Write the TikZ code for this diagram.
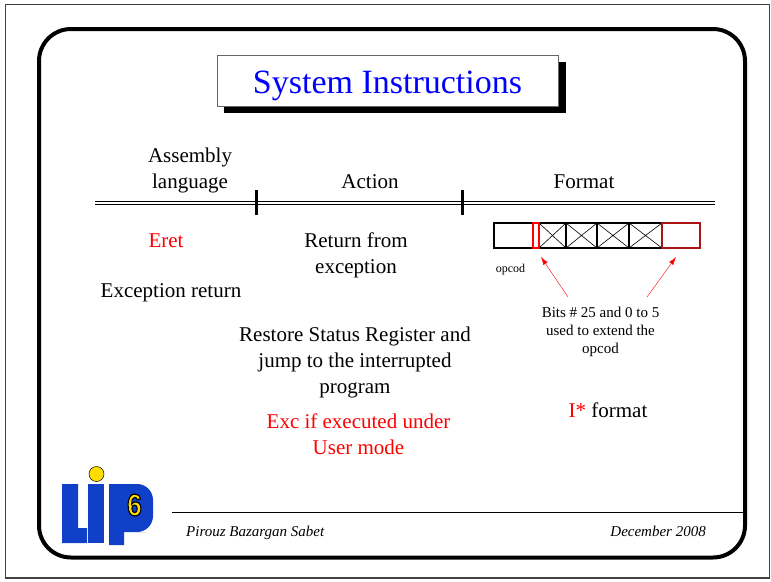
\documentclass[tikz,border=0pt]{standalone}
\usepackage{fontspec}
\setmainfont{Liberation Serif}
\setsansfont{Liberation Sans}
\usepackage{xcolor}
\usepackage{tikz}
\usetikzlibrary{calc,positioning,arrows.meta}
\definecolor{lipblue}{RGB}{16,64,200}
\definecolor{lipyellow}{RGB}{255,221,0}
\definecolor{darkred}{RGB}{170,20,20}
\newcommand{\outlined}[1]{\special{pdf:literal direct 2 Tr 1.2 w 0 G}#1\special{pdf:literal direct 0 Tr}}
\tikzset{
	txt/.style={font=\fontsize{21}{26}\selectfont,align=center,anchor=base,inner sep=0pt},
	small/.style={font=\fontsize{15}{18}\selectfont,align=center,anchor=base,inner sep=0pt},
	foot/.style={font=\fontsize{15}{18}\selectfont\itshape,inner sep=0pt},
	cell/.style={draw,line width=1.2pt},
}

\begin{document}
\begin{tikzpicture}[x=1pt,y=-1pt]
		\useasboundingbox (0,0) rectangle (771,581);
		\fill[white] (0,0) rectangle (771,581);
		\draw[line width=1.5pt,black!75] (5.5,4.5) rectangle (769.5,578);
		\draw[line width=4pt,rounded corners=32pt] (39,29) rectangle (745,557.5);
		\draw[line width=1pt] (172,512) -- (745,512);
		\fill[black] (224,62) rectangle (566,113);
		\draw[fill=white,draw=black!60,line width=0.8pt] (217,55) rectangle (558,106);
		\node[font=\fontsize{34}{40}\selectfont,text=blue,anchor=base,inner sep=0pt] (title) at (387.5,93) {System Instructions};
		\node[txt] (asm) at (190,188) {Assembly\\language};
		\node[txt] (action) at (370,188) {Action};
		\node[txt] (format) at (584,188) {Format};
		\draw[line width=0.9pt] (95,201.5) -- (715,201.5);
		\draw[line width=0.9pt] (95,204.5) -- (715,204.5);
		\draw[line width=3pt] (256,190) -- (256,215);
		\draw[line width=3pt] (462,190) -- (462,215);
		\node[txt,text=red] (eret) at (166,247) {Eret};
		\node[txt] (retfrom) at (356,273) {Return from\\exception};
		\node[txt] (excret) at (171,297) {Exception return};
		\node[txt] (restore) at (355,393) {Restore Status Register and\\jump to the interrupted\\program};
		\node[txt,text=red] (excuser) at (358.5,454) {Exc if executed under\\User mode};
		\node[txt] (iformat) at (608,417) {\textcolor{red}{I*} format};
		\draw[cell] (494,223) rectangle (533,248);
		\foreach \a/\b in {539/566,566/597,597/629,629/662} {
			\draw[cell] (\a,223) rectangle (\b,248);
			\draw[line width=0.6pt] (\a,223) -- (\b,248) (\a,248) -- (\b,223);
		}
		\draw[cell,red] (533,223) rectangle (539,248);
		\draw[cell,darkred] (662,223) rectangle (700,248);
		\node[font=\fontsize{12}{14}\selectfont,anchor=base,inner sep=0pt] (opcod) at (510.5,272) {opcod};
		\node[small] (bits) at (600.5,353) {Bits \# 25 and 0 to 5\\used to extend the\\opcod};
		\coordinate (tipA) at (541,257);
		\coordinate (tipB) at (676,257);
		\coordinate (tailA) at (568,297);
		\coordinate (tailB) at (647,297);
		\draw[-{Latex[length=8pt,width=5pt]},red] (tailA) -- (tipA);
		\draw[-{Latex[length=8pt,width=5pt]},red] (tailB) -- (tipB);
		\node[foot,anchor=base west] (author) at (186,536) {Pirouz Bazargan Sabet};
		\node[foot,anchor=base east] (date) at (706,536) {December 2008};
		\fill[lipblue] (62,484) -- (78,484) -- (78,528) -- (87,528) -- (87,543) -- (62,543) -- cycle;
		\fill[lipblue] (88,484) rectangle (104,543);
		\draw[fill=lipyellow,line width=0.5pt] (96.5,474) circle (7.5);
		\fill[lipblue] (109,545) -- (109,484) -- (120,484) [rounded corners=16pt] -- (153,484) -- (153,532) -- (130,532) [sharp corners] -- (124,532) -- (124,545) -- cycle;
		\node[font=\fontsize{31}{34}\sffamily\bfseries,text=lipyellow,inner sep=0pt,xscale=0.85] (six) at (134.5,505) {\outlined{6}};
	\end{tikzpicture}
\end{document}
